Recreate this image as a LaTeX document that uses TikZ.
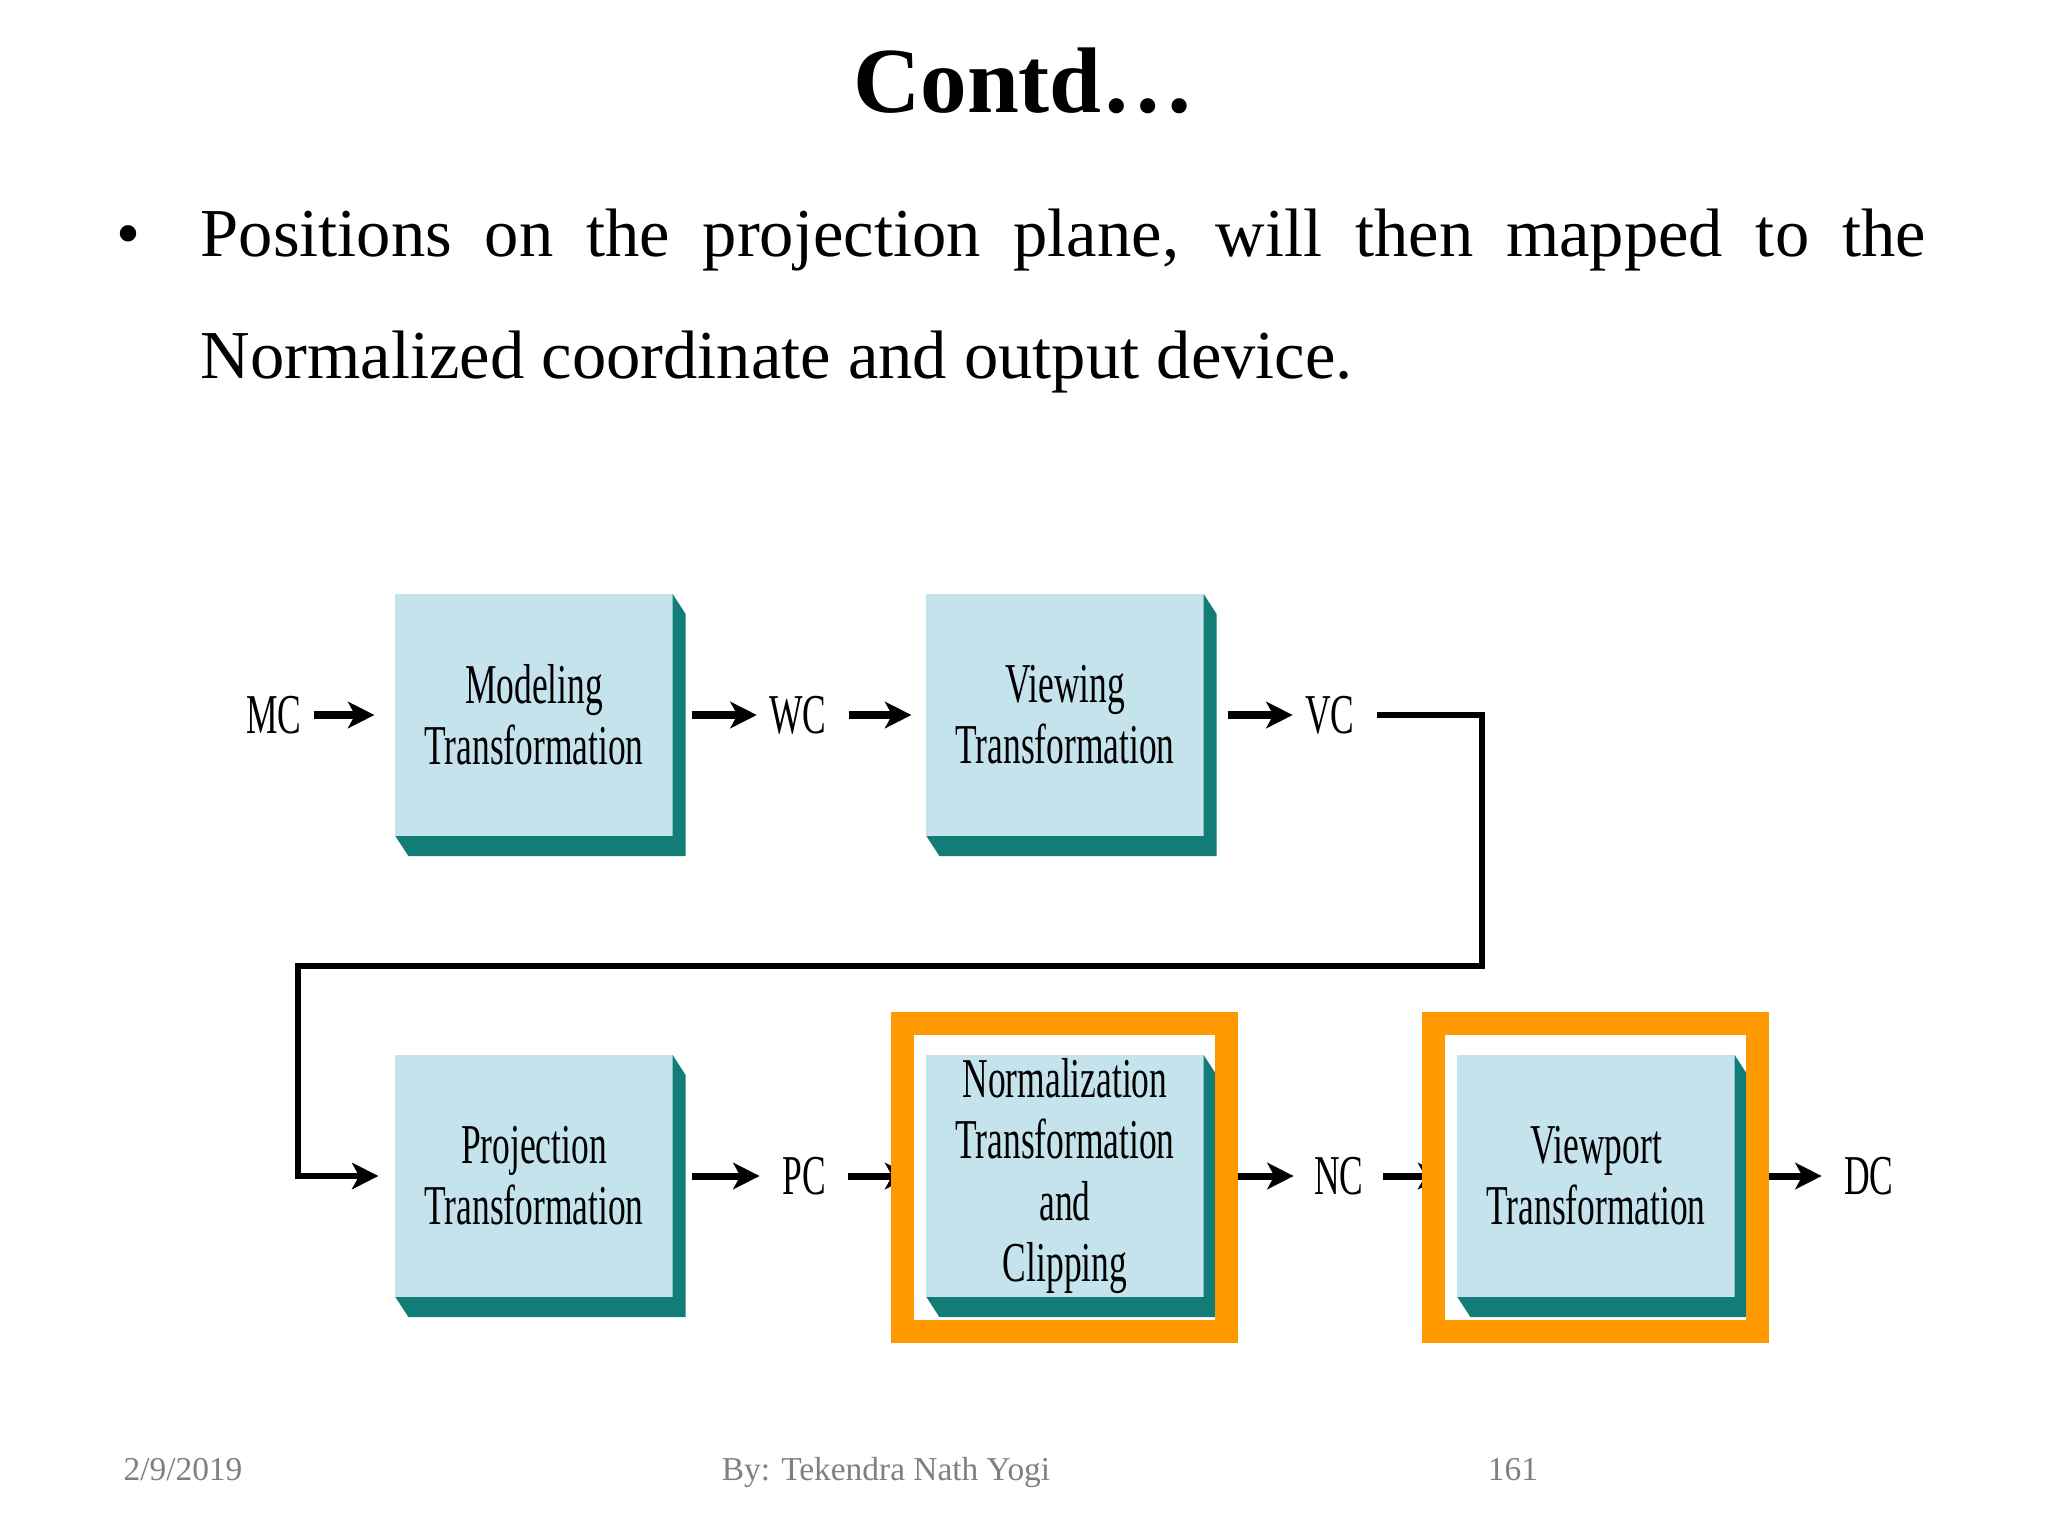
\documentclass[tikz,border=0pt]{standalone}
\usepackage{fontspec}
\setmainfont{Liberation Serif}
\newfontfamily\narrowfont[FakeStretch=0.63]{Liberation Serif}
\usepackage{tikz}
\usetikzlibrary{arrows.meta}
\usetikzlibrary{calc}
\usetikzlibrary{positioning}
\definecolor{boxface}{RGB}{197,227,236}
\definecolor{boxside}{RGB}{17,125,118}
\definecolor{hiorange}{RGB}{255,153,0}
\definecolor{footgray}{RGB}{128,128,128}

\begin{document}
\begin{tikzpicture}[x=0.01cm,y=-0.01cm,
	trans_box/.style={rectangle,fill=boxface,minimum width=2.77cm,minimum height=2.42cm,inner sep=0pt,outer sep=0pt,align=center,font=\narrowfont\fontsize{16}{17.4}\selectfont},
	coord_label/.style={inner sep=0.12cm,font=\narrowfont\fontsize{16}{17.4}\selectfont},
	flow/.style={line width=2pt,-{Stealth[length=7.5pt,width=7.5pt,inset=2pt]}},
	hilite/.style={draw=hiorange,line width=0.23cm},
	foot/.style={text=footgray,font=\fontsize{9.5}{11}\selectfont,anchor=base}]
				\fill[white] (0,0) rectangle (2048,1536);
				\node[anchor=base,font=\bfseries\fontsize{26.5}{30}\selectfont](title) at (1024,112){Contd…};
				\node[anchor=north west,inner sep=0pt,text width=17.24cm,align=justify,font=\fontsize{19.5}{34.7}\selectfont](point) at (200,208){\noindent\llap{•\hspace{0.6cm}}Positions on the projection plane, will then mapped to the\linebreak Normalized coordinate and output device.};
				\node[trans_box](model) at (534,715){Modeling\\Transformation};
				\node[trans_box](view) at (1065,715){Viewing\\Transformation};
				\node[trans_box](proj) at (534,1176){Projection\\Transformation};
				\node[trans_box](norm) at (1065,1176){Normalization\\Transformation\\and\\Clipping};
				\node[trans_box](vport) at (1596,1176){Viewport\\Transformation};
				\node[coord_label](mc) at (274,715){MC};
				\node[coord_label](wc) at (798,715){WC};
				\node[coord_label](vc) at (1330,715){VC};
				\node[coord_label](pc) at (804,1176){PC};
				\node[coord_label](nc) at (1339,1176){NC};
				\node[coord_label](dc) at (1869,1176){DC};
				\foreach \b in {model,view,proj,norm,vport}
					\fill[boxside] (\b.north east) -- ([shift={(13,20)}]\b.north east) -- ([shift={(13,20)}]\b.south east) -- ([shift={(13,20)}]\b.south west) -- (\b.south west) -- (\b.south east) -- cycle;
				\path[flow]
				(mc) edge[shorten >=0.21cm] (model)
				(model) edge[shorten <=0.19cm] (wc)
				(wc) edge[shorten <=0.1cm,shorten >=0.15cm] (view)
				(view) edge[shorten <=0.24cm] (vc)
				(proj) edge[shorten <=0.19cm,shorten >=0.1cm] (pc)
				(pc) edge[shorten <=0.1cm,shorten >=0.15cm] (norm)
				(norm) edge[shorten <=0.22cm,shorten >=0.08cm] (nc)
				(nc) edge[shorten <=0.07cm,shorten >=0.13cm] (vport)
				(vport) edge[shorten <=0.21cm,shorten >=0.1cm] (dc);
				\coordinate (bendR) at (1482,966);
				\coordinate (bendL) at (298,966);
				\draw[flow,line width=1.7pt,shorten <=0.1cm,shorten >=0.17cm] (vc) -| (bendR) -- (bendL) |- (proj);
				\draw[hilite] ($(norm.north west)+(-24,-31)$) rectangle ($(norm.south east)+(23,34)$);
				\draw[hilite] ($(vport.north west)+(-24,-31)$) rectangle ($(vport.south east)+(23,34)$);
				\node[foot](date) at (183,1480){2/9/2019};
				\node[foot](author) at (886,1480){By: Tekendra Nath Yogi};
				\node[foot](page) at (1513,1480){161};
			\end{tikzpicture}
\end{document}
